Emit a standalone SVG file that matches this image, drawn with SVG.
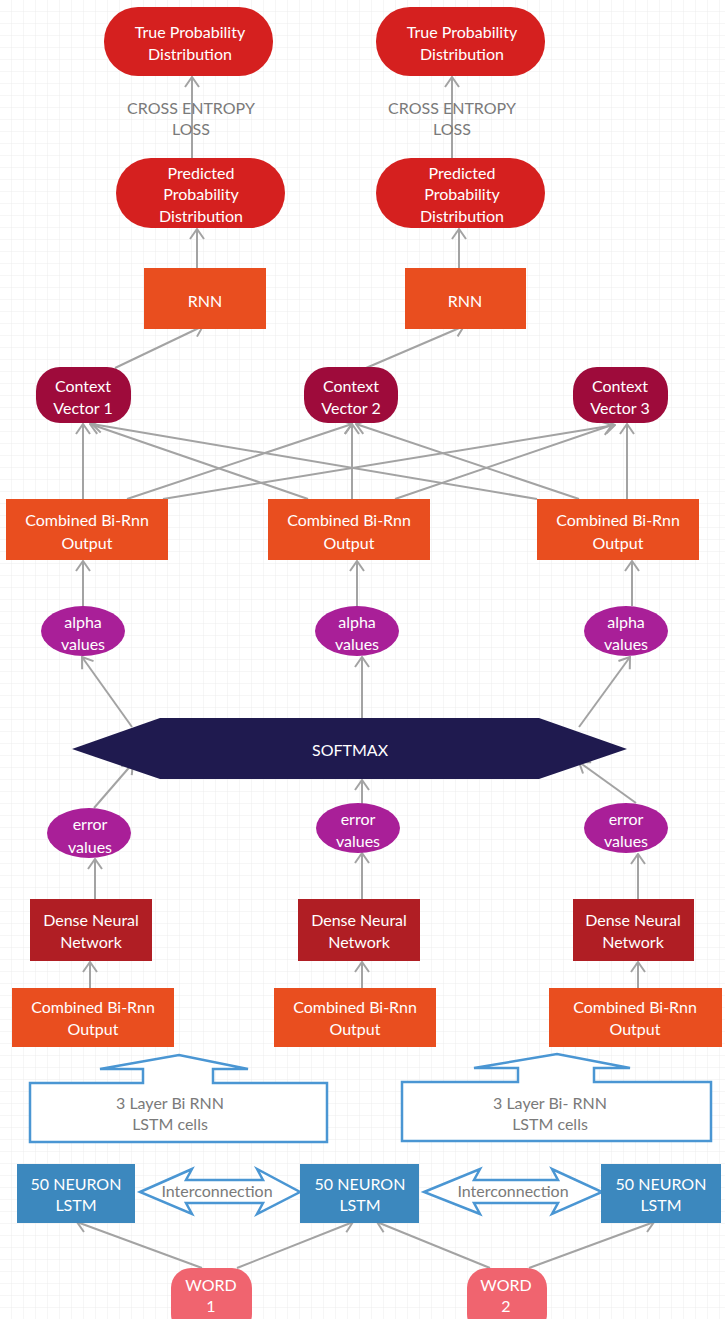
<svg xmlns="http://www.w3.org/2000/svg" width="725" height="1319" viewBox="0 0 725 1319">
<defs>
<pattern id="grid" width="12" height="12" patternUnits="userSpaceOnUse">
<path d="M12 0V12M0 12H12" fill="none" stroke="#ececec" stroke-width="1"/>
</pattern>
<marker id="ah" viewBox="0 0 12 16" refX="11" refY="8" markerWidth="12" markerHeight="16" markerUnits="userSpaceOnUse" orient="auto">
<path d="M1 1L11 8L1 15" fill="none" stroke="#a3a3a3" stroke-width="2"/>
</marker>
<style>
text{font-family:Lato,"Open Sans","Liberation Sans",sans-serif;font-size:16px;text-anchor:middle;dominant-baseline:central;fill:#fff}
.g{fill:#7a7a7a}
.red{fill:#d5201f}
.org{fill:#e94e1f}
.cv{fill:#9e0b3b}
.mag{fill:#a91f98}
.den{fill:#b01e24}
.blu{fill:#3c88be}
.wrd{fill:#f0646f}
.out{fill:#fff;stroke:#4a96d3;stroke-width:2.5;stroke-linejoin:miter}
#connectors line{stroke:#a3a3a3;stroke-width:2;marker-end:url(#ah)}
</style>
</defs>
<rect width="725" height="1319" fill="#fff"/>
<rect width="725" height="1319" fill="url(#grid)"/>

<g id="connectors">
<line x1="192" y1="158" x2="192" y2="77"/>
<line x1="452" y1="158" x2="452" y2="77"/>
<line x1="197" y1="268" x2="197" y2="229"/>
<line x1="459" y1="268" x2="459" y2="229"/>
<line x1="115" y1="368" x2="203" y2="326"/>
<line x1="366" y1="368" x2="464" y2="326"/>
<line x1="83" y1="499" x2="83" y2="424"/>
<line x1="127" y1="499" x2="352" y2="424"/>
<line x1="163" y1="499" x2="615" y2="425"/>
<line x1="308" y1="499" x2="90" y2="424"/>
<line x1="352" y1="499" x2="352" y2="424"/>
<line x1="395" y1="499" x2="612" y2="425"/>
<line x1="537" y1="499" x2="92" y2="424"/>
<line x1="579" y1="499" x2="356" y2="424"/>
<line x1="627" y1="499" x2="627" y2="424"/>
<line x1="83" y1="606" x2="83" y2="561"/>
<line x1="357" y1="606" x2="357" y2="561"/>
<line x1="632" y1="606" x2="632" y2="561"/>
<line x1="132" y1="727" x2="82" y2="657"/>
<line x1="362" y1="718" x2="362" y2="657"/>
<line x1="579" y1="727" x2="630" y2="657"/>
<line x1="94" y1="808" x2="133" y2="763"/>
<line x1="362" y1="805" x2="362" y2="780"/>
<line x1="636" y1="803" x2="579" y2="762"/>
<line x1="95" y1="899" x2="95" y2="859"/>
<line x1="362" y1="899" x2="362" y2="853"/>
<line x1="638" y1="899" x2="638" y2="854"/>
<line x1="90" y1="988" x2="90" y2="962"/>
<line x1="362" y1="988" x2="362" y2="962"/>
<line x1="638" y1="988" x2="638" y2="962"/>
<line x1="202" y1="1268" x2="77" y2="1222"/>
<line x1="237" y1="1268" x2="353" y2="1222"/>
<line x1="490" y1="1268" x2="377" y2="1222"/>
<line x1="529" y1="1268" x2="654" y2="1222"/>
</g>

<g id="loss1"><text class="g" x="191" y="107">CROSS ENTROPY</text><text class="g" x="191" y="128">LOSS</text></g>
<g id="loss2"><text class="g" x="452" y="107">CROSS ENTROPY</text><text class="g" x="452" y="128">LOSS</text></g>

<g id="true1"><rect class="red" x="104" y="7" width="169" height="69" rx="34"/><text x="190" y="31">True Probability</text><text x="190" y="53">Distribution</text></g>
<g id="true2"><rect class="red" x="376" y="7" width="169" height="69" rx="34"/><text x="462" y="31">True Probability</text><text x="462" y="53">Distribution</text></g>

<g id="pred1"><rect class="red" x="116" y="158" width="169" height="70" rx="35"/><text x="201" y="172">Predicted</text><text x="201" y="193">Probability</text><text x="201" y="215">Distribution</text></g>
<g id="pred2"><rect class="red" x="376" y="158" width="169" height="70" rx="35"/><text x="462" y="172">Predicted</text><text x="462" y="193">Probability</text><text x="462" y="215">Distribution</text></g>

<g id="rnn1"><rect class="org" x="144" y="268" width="122" height="61"/><text x="205" y="300">RNN</text></g>
<g id="rnn2"><rect class="org" x="405" y="268" width="121" height="61"/><text x="465" y="300">RNN</text></g>

<g id="cv1"><rect class="cv" x="36" y="367" width="95" height="56" rx="24"/><text x="83" y="385">Context</text><text x="83" y="407">Vector 1</text></g>
<g id="cv2"><rect class="cv" x="304" y="367" width="94" height="56" rx="24"/><text x="351" y="385">Context</text><text x="351" y="407">Vector 2</text></g>
<g id="cv3"><rect class="cv" x="573" y="367" width="95" height="56" rx="24"/><text x="620" y="385">Context</text><text x="620" y="407">Vector 3</text></g>

<g id="comb1"><rect class="org" x="6" y="499" width="162" height="61"/><text x="87" y="519">Combined Bi-Rnn</text><text x="87" y="542">Output</text></g>
<g id="comb2"><rect class="org" x="268" y="499" width="162" height="61"/><text x="349" y="519">Combined Bi-Rnn</text><text x="349" y="542">Output</text></g>
<g id="comb3"><rect class="org" x="537" y="499" width="162" height="61"/><text x="618" y="519">Combined Bi-Rnn</text><text x="618" y="542">Output</text></g>

<g id="alpha1"><ellipse class="mag" cx="83" cy="631" rx="42" ry="25"/><text x="83" y="621">alpha</text><text x="83" y="643">values</text></g>
<g id="alpha2"><ellipse class="mag" cx="357" cy="631" rx="42" ry="25"/><text x="357" y="621">alpha</text><text x="357" y="643">values</text></g>
<g id="alpha3"><ellipse class="mag" cx="626" cy="631" rx="42" ry="25"/><text x="626" y="621">alpha</text><text x="626" y="643">values</text></g>

<g id="softmax"><polygon fill="#1f1a4f" points="72,749 160,718 539,718 627,749 539,779 160,779"/><text x="350" y="749">SOFTMAX</text></g>

<g id="err1"><ellipse class="mag" cx="89" cy="833" rx="42" ry="25"/><text x="90" y="823">error</text><text x="90" y="846">values</text></g>
<g id="err2"><ellipse class="mag" cx="358" cy="828" rx="42" ry="25"/><text x="358" y="818">error</text><text x="358" y="840">values</text></g>
<g id="err3"><ellipse class="mag" cx="626" cy="828" rx="42" ry="25"/><text x="626" y="818">error</text><text x="626" y="840">values</text></g>

<g id="dense1"><rect class="den" x="30" y="899" width="122" height="62"/><text x="91" y="919">Dense Neural</text><text x="91" y="941">Network</text></g>
<g id="dense2"><rect class="den" x="298" y="899" width="122" height="62"/><text x="359" y="919">Dense Neural</text><text x="359" y="941">Network</text></g>
<g id="dense3"><rect class="den" x="573" y="899" width="121" height="62"/><text x="633" y="919">Dense Neural</text><text x="633" y="941">Network</text></g>

<g id="combL1"><rect class="org" x="12" y="988" width="162" height="59"/><text x="93" y="1006">Combined Bi-Rnn</text><text x="93" y="1028">Output</text></g>
<g id="combL2"><rect class="org" x="274" y="988" width="162" height="59"/><text x="355" y="1006">Combined Bi-Rnn</text><text x="355" y="1028">Output</text></g>
<g id="combL3"><rect class="org" x="549" y="988" width="173" height="59"/><text x="635" y="1006">Combined Bi-Rnn</text><text x="635" y="1028">Output</text></g>

<g id="bilstm1"><path class="out" d="M30 1142V1083H143V1069H100L179 1055L248 1069H213V1083H327V1142Z"/><text class="g" x="170" y="1102">3 Layer Bi RNN</text><text class="g" x="170" y="1123">LSTM cells</text></g>
<g id="bilstm2"><path class="out" d="M402 1141V1082H518V1068H474L557 1054L630 1068H594V1082H711V1141Z"/><text class="g" x="550" y="1102">3 Layer Bi- RNN</text><text class="g" x="550" y="1123">LSTM cells</text></g>

<g id="inter1"><path class="out" d="M140 1192L192 1169L186 1180H263L257 1169L300 1192L257 1214L263 1203H186L192 1214Z"/><text class="g" x="217" y="1190">Interconnection</text></g>
<g id="inter2"><path class="out" d="M424 1192L480 1169L474 1180H558L552 1169L602 1192L552 1214L558 1203H474L480 1214Z"/><text class="g" x="513" y="1190">Interconnection</text></g>

<g id="lstm1"><rect class="blu" x="17" y="1164" width="118" height="59"/><text x="76" y="1183">50 NEURON</text><text x="76" y="1204">LSTM</text></g>
<g id="lstm2"><rect class="blu" x="300" y="1164" width="119" height="59"/><text x="360" y="1183">50 NEURON</text><text x="360" y="1204">LSTM</text></g>
<g id="lstm3"><rect class="blu" x="601" y="1164" width="120" height="59"/><text x="661" y="1183">50 NEURON</text><text x="661" y="1204">LSTM</text></g>

<g id="word1"><rect class="wrd" x="171" y="1268" width="81" height="66" rx="20"/><text x="211" y="1284">WORD</text><text x="211" y="1305">1</text></g>
<g id="word2"><rect class="wrd" x="467" y="1268" width="80" height="66" rx="20"/><text x="506" y="1284">WORD</text><text x="506" y="1305">2</text></g>
</svg>
